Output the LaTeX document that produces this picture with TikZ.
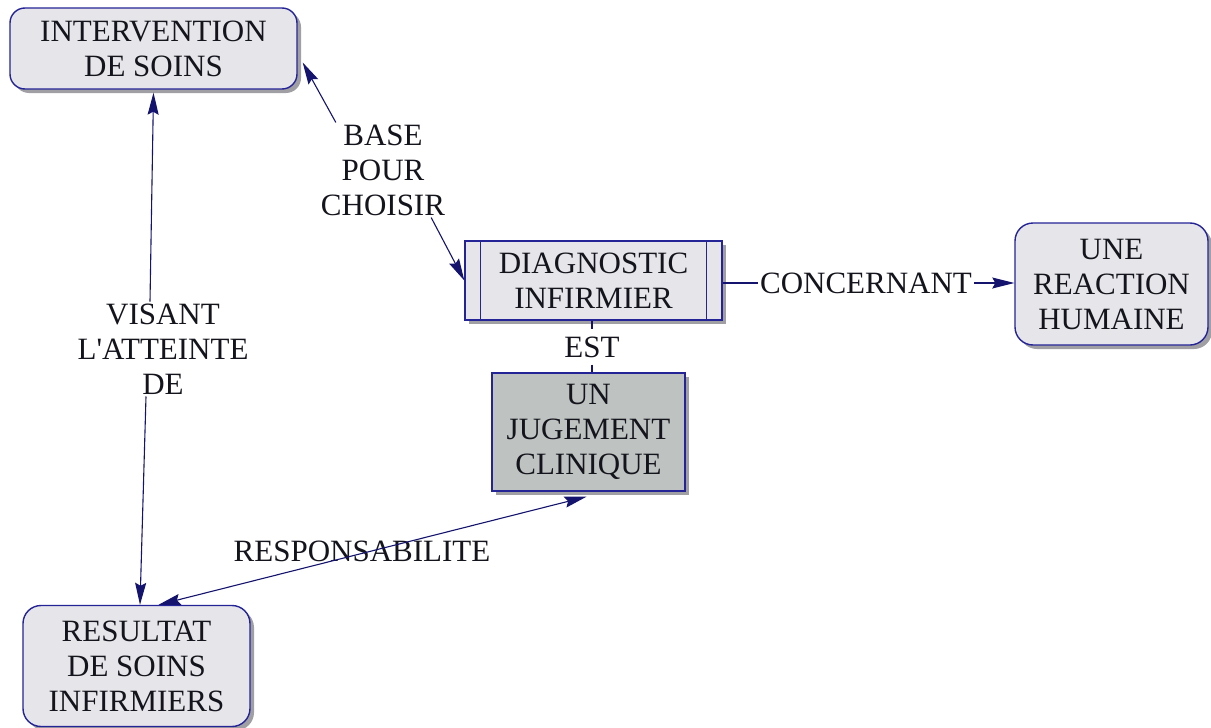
\documentclass[tikz,border=0pt]{standalone}
\usepackage{fontspec}
\setmainfont{Liberation Serif}
\usetikzlibrary{arrows.meta,shadows}
\definecolor{nodeborder}{RGB}{36,36,150}
\definecolor{linecol}{RGB}{20,20,110}
\definecolor{boxfill}{RGB}{230,230,234}
\definecolor{darkfill}{RGB}{190,194,192}
\definecolor{shadowgray}{RGB}{160,160,164}
\definecolor{txt}{RGB}{20,20,28}
\begin{document}
\begin{tikzpicture}[x=1pt,y=-1pt,
  txtfont/.style={font=\fontsize{31}{35}\selectfont},
  box/.style={draw=nodeborder, line width=1.4pt, fill=boxfill, text=txt, align=center, inner sep=0pt, txtfont,
    drop shadow={shadow xshift=4pt, shadow yshift=-4pt, fill=shadowgray, opacity=1}},
  rbox/.style={box, rounded corners=15pt},
  lab/.style={align=center, text=txt, txtfont, inner sep=2pt},
  conn/.style={draw=linecol, line width=1.1pt},
  tip/.tip={Stealth[length=22pt,width=11pt,inset=3pt]},
  arr/.style={conn, -tip},
  arrs/.style={conn, tip-tip}]
\useasboundingbox (0,0) rectangle (1211,728);
\fill[white] (0,0) rectangle (1211,728);

% nodes
\node[rbox, minimum width=287pt, minimum height=81pt] (int) at (153.5,48.5) {INTERVENTION\\DE SOINS};
\node[box, minimum width=257pt, minimum height=79pt] (diag) at (593.5,280.5) {DIAGNOSTIC\\INFIRMIER};
\draw[nodeborder, line width=1.2pt] ([xshift=16pt]diag.north west) -- ([xshift=16pt]diag.south west);
\draw[nodeborder, line width=1.2pt] ([xshift=-16pt]diag.north east) -- ([xshift=-16pt]diag.south east);
\node[rbox, rounded corners=18pt, minimum width=193pt, minimum height=122pt] (reac) at (1111.5,284) {UNE\\REACTION\\HUMAINE};
\node[box, fill=darkfill, minimum width=193pt, minimum height=118pt] (jug) at (588.5,432) {UN\\JUGEMENT\\CLINIQUE};
\node[rbox, rounded corners=18pt, minimum width=227pt, minimum height=121pt] (res) at (136.5,666) {RESULTAT\\DE SOINS\\INFIRMIERS};

% labels
\node[lab] (base) at (383,170) {BASE\\POUR\\CHOISIR};
\node[lab] (vis) at (163,349) {VISANT\\L\textquotesingle ATTEINTE\\DE};
\node[lab] (conc) at (866,283) {CONCERNANT};
\node[lab, inner ysep=7pt] (est) at (592,347) {EST};
\node[lab] (resp) at (362,551) {RESPONSABILITE};

% connectors
\draw[arr] ([xshift=-13pt]vis.north) -- ([yshift=-3pt]int.south);
\draw[arr] ([xshift=-17pt]vis.south) -- ([xshift=3.5pt]res.north);
\draw[arr] ([xshift=17pt]base.north west) -- ([yshift=-14pt,xshift=5pt]int.east);
\draw[arr] ([xshift=-16pt]base.south east) -- (diag.west);
\draw[conn] (diag.east |- conc.west) -- (conc.west);
\draw[arr] (conc.east) -- (reac.west |- conc.east);
\draw[conn] (est.north |- diag.south) -- (est.north);
\draw[conn] (est.south) -- (est.south |- jug.north);
\draw[arrs] ([xshift=22pt]res.north) -- ([yshift=-5pt,xshift=-2pt]jug.south);
\end{tikzpicture}
\end{document}
